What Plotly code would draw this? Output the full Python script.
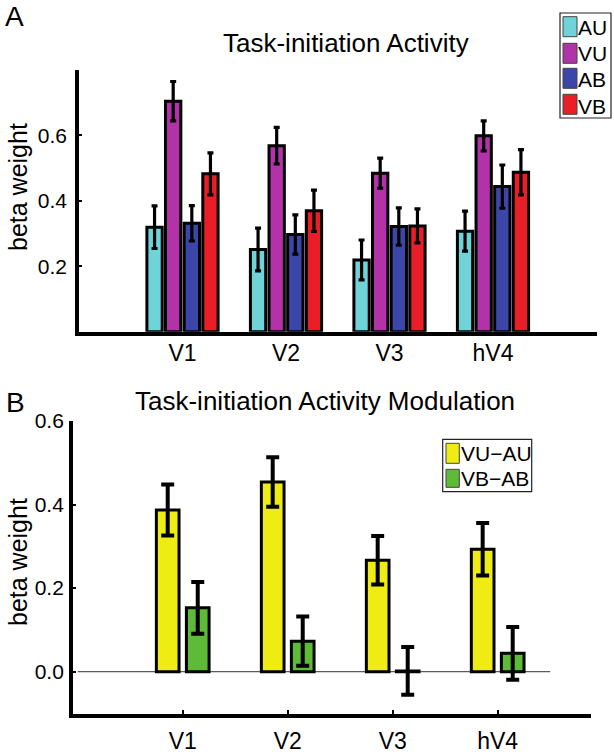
import plotly.graph_objects as go

# ---- data ----
regions = ["V1", "V2", "V3", "hV4"]

# panel A: task-initiation activity per condition
conds_a = ["AU", "VU", "AB", "VB"]
au = [0.319, 0.251, 0.219, 0.307]
vu = [0.704, 0.568, 0.484, 0.598]
ab = [0.331, 0.297, 0.321, 0.443]
vb = [0.482, 0.369, 0.323, 0.487]
au_err = [0.065, 0.065, 0.061, 0.061]
vu_err = [0.060, 0.056, 0.046, 0.046]
ab_err = [0.054, 0.060, 0.057, 0.066]
vb_err = [0.064, 0.063, 0.052, 0.069]

# panel B: modulation (differences)
conds_b = ["VU\u2212AU", "VB\u2212AB"]
vu_au = [0.387, 0.454, 0.267, 0.293]
vb_ab = [0.153, 0.073, 0.002, 0.044]
vu_au_err = [0.061, 0.059, 0.058, 0.063]
vb_ab_err = [0.062, 0.059, 0.057, 0.063]

W, H = 614, 756
FONT = "Liberation Sans, Arial, Helvetica, sans-serif"


def px(x):
    return x / W


def py(y):
    return 1 - y / H


colors_a = ["#6fd3d8", "#b232a8", "#3c46a8", "#e91e26"]
colors_b = ["#eeec12", "#5dbb38"]

xpos = [1, 2, 3, 4]
fig = go.Figure()

# panel A bars
vals_a = [au, vu, ab, vb]
errs_a = [au_err, vu_err, ab_err, vb_err]
w_a = 0.148
for i, (name, v, e, c) in enumerate(zip(conds_a, vals_a, errs_a, colors_a)):
    centre = (i - 1.5) * 0.18
    fig.add_trace(go.Bar(
        x=xpos, y=v, name=name, xaxis="x", yaxis="y",
        width=w_a, offset=centre - w_a / 2,
        marker=dict(color=c, line=dict(color="black", width=3)),
        error_y=dict(type="data", array=e, color="black", thickness=3.2, width=3),
        showlegend=False,
    ))

# panel B bars
vals_b = [vu_au, vb_ab]
errs_b = [vu_au_err, vb_ab_err]
w_b = 0.216
for i, (name, v, e, c) in enumerate(zip(conds_b, vals_b, errs_b, colors_b)):
    centre = (i - 0.5) * 0.286
    fig.add_trace(go.Bar(
        x=xpos, y=v, name=name, xaxis="x2", yaxis="y2",
        width=w_b, offset=centre - w_b / 2,
        marker=dict(color=c, line=dict(color="black", width=3)),
        error_y=dict(type="data", array=e, color="black", thickness=4, width=6.5),
        showlegend=False,
    ))

axis_common = dict(showline=True, linecolor="black", linewidth=3.5, showgrid=False,
                   zeroline=False, automargin=False,
                   tickfont=dict(family=FONT, size=21, color="black"))

fig.update_layout(
    width=W, height=H,
    margin=dict(l=0, r=0, t=0, b=0, pad=0),
    paper_bgcolor="white", plot_bgcolor="white",
    barmode="overlay",
    showlegend=False,
    font=dict(family=FONT, color="black"),
    xaxis=dict(axis_common, domain=[px(79), px(596.5)], range=[0, 5], anchor="y",
               tickvals=xpos, ticktext=regions, ticks="",
               tickfont=dict(family=FONT, size=23, color="black"), ticklabelstandoff=-2),
    yaxis=dict(axis_common, domain=[py(331.7), py(69.7)], range=[0, 0.8], anchor="x",
               tickvals=[0.2, 0.4, 0.6], ticks="inside", ticklen=3, tickwidth=2,
               tickcolor="black", ticklabelstandoff=4),
    xaxis2=dict(axis_common, domain=[px(72.8), px(590.6)], range=[-0.047, 4.885], anchor="y2",
                tickvals=xpos, ticktext=regions, ticks="inside", ticklen=4, tickwidth=2,
                tickcolor="black", tickfont=dict(family=FONT, size=23, color="black"),
                ticklabelstandoff=4),
    yaxis2=dict(axis_common, domain=[py(713.5), py(421)], range=[-0.1, 0.6], anchor="x2",
                tickvals=[0.0, 0.2, 0.4, 0.6], tickformat=".1f", ticks="inside", ticklen=3,
                tickwidth=2, tickcolor="black", ticklabelstandoff=1),
)

# zero reference line in panel B
fig.add_shape(type="line", xref="x2", yref="y2", x0=0, x1=4.5, y0=0, y1=0,
              line=dict(color="#333333", width=1), layer="below")

# titles, panel letters, axis titles
texts = [
    ("A", 14, 16, 28, 0),
    ("B", 15, 403, 28, 0),
    ("Task-initiation Activity", 346, 43, 26, 0),
    ("Task-initiation Activity Modulation", 325, 401, 26, 0),
    ("beta weight", 18, 187, 25, -90),
    ("beta weight", 18, 562, 25, -90),
]
for t, x, y, s, ang in texts:
    fig.add_annotation(text=t, x=px(x), y=py(y), xref="paper", yref="paper",
                       xanchor="center", yanchor="middle", showarrow=False,
                       textangle=ang, font=dict(family=FONT, size=s, color="black"))


# hand-drawn legends (large swatches like the original)
def legend(names, cols, box, sw_x, sw_ys, text_x, text_ys):
    x0, x1, y0, y1 = box
    fig.add_shape(type="rect", xref="paper", yref="paper",
                  x0=px(x0), x1=px(x1), y0=py(y1), y1=py(y0),
                  line=dict(color="#222222", width=1.2), fillcolor="white")
    for n, c, (ya, yb), ty in zip(names, cols, sw_ys, text_ys):
        fig.add_shape(type="rect", xref="paper", yref="paper",
                      x0=px(sw_x[0]), x1=px(sw_x[1]), y0=py(yb), y1=py(ya),
                      line=dict(color="#444444", width=1), fillcolor=c)
        fig.add_annotation(text=n, x=px(text_x), y=py(ty), xref="paper", yref="paper",
                           xanchor="left", yanchor="middle", showarrow=False,
                           font=dict(family=FONT, size=21, color="black"))


legend(conds_a, colors_a, (560, 611, 13, 118), (563, 577),
       [(16.7, 36.7), (43.3, 63.3), (68.3, 88.3), (94.3, 114.3)],
       576, [27.5, 54, 79.5, 106])
legend(conds_b, colors_b, (442.7, 531.7, 439.3, 491.7), (446, 459.3),
       [(443.3, 463.3), (469.3, 487.3)],
       459, [453, 478.5])

# drop the default body margin so the 614x756 figure fills the window exactly
fig.write_html("out.html", config={"displayModeBar": False},
               post_script="document.body.style.margin='0';")
